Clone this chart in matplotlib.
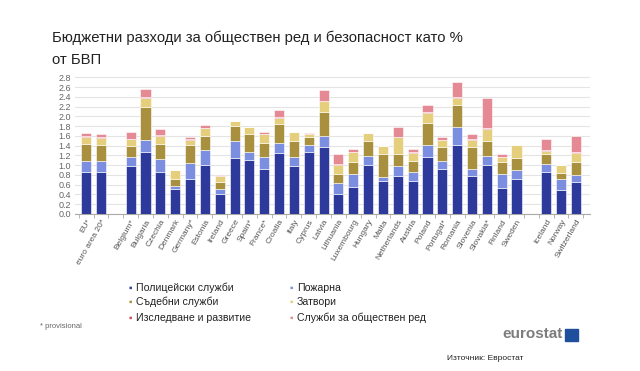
import matplotlib.pyplot as plt
import numpy as np

# country labels, '' = gap slot
countries = ['EU*', 'euro area 20*', '', 'Belgium*', 'Bulgaria', 'Czechia', 'Denmark', 'Germany*',
             'Estonia', 'Ireland', 'Greece', 'Spain*', 'France*', 'Croatia', 'Italy', 'Cyprus',
             'Latvia', 'Lithuania', 'Luxembourg', 'Hungary', 'Malta', 'Netherlands', 'Austria',
             'Poland', 'Portugal*', 'Romania', 'Slovenia', 'Slovakia*', 'Finland', 'Sweden', '',
             'Iceland', 'Norway', 'Switzerland']

police = [0.87, 0.86, 0, 0.98, 1.28, 0.87, 0.51, 0.72, 1.01, 0.42, 1.15, 1.11, 0.92, 1.26, 0.98, 1.27,
          1.38, 0.40, 0.56, 1.00, 0.68, 0.78, 0.67, 1.17, 0.92, 1.41, 0.77, 1.01, 0.53, 0.71, 0,
          0.87, 0.49, 0.66]
fire = [0.22, 0.23, 0, 0.18, 0.24, 0.26, 0.06, 0.32, 0.30, 0.09, 0.34, 0.17, 0.24, 0.19, 0.19, 0.15,
        0.22, 0.23, 0.27, 0.19, 0.07, 0.20, 0.19, 0.24, 0.16, 0.38, 0.16, 0.18, 0.30, 0.19, 0,
        0.15, 0.22, 0.13]
courts = [0.34, 0.32, 0, 0.23, 0.68, 0.30, 0.15, 0.37, 0.29, 0.15, 0.31, 0.36, 0.29, 0.39, 0.33, 0.15,
          0.49, 0.20, 0.24, 0.31, 0.47, 0.25, 0.23, 0.45, 0.29, 0.44, 0.44, 0.31, 0.24, 0.25, 0,
          0.20, 0.14, 0.28]
prisons = [0.15, 0.15, 0, 0.14, 0.18, 0.17, 0.18, 0.11, 0.16, 0.12, 0.11, 0.15, 0.18, 0.13, 0.18, 0.07,
           0.22, 0.18, 0.20, 0.15, 0.17, 0.34, 0.17, 0.22, 0.15, 0.15, 0.15, 0.25, 0.10, 0.26, 0,
           0.08, 0.15, 0.19]
research = [0.01, 0.01, 0, 0.01, 0.01, 0.01, 0.0, 0.01, 0.01, 0.0, 0.0, 0.0, 0.01, 0.01, 0.0, 0.0,
            0.01, 0.01, 0.0, 0.0, 0.0, 0.01, 0.01, 0.01, 0.0, 0.01, 0.01, 0.01, 0.0, 0.0, 0,
            0.01, 0.0, 0.01]
public_order = [0.08, 0.07, 0, 0.14, 0.18, 0.14, 0.0, 0.05, 0.06, 0.02, 0.0, 0.0, 0.05, 0.16, 0.0, 0.03,
                0.23, 0.20, 0.06, 0.0, 0.0, 0.21, 0.07, 0.15, 0.06, 0.31, 0.10, 0.62, 0.05, 0.0, 0,
                0.22, 0.0, 0.33]

series = [police, fire, courts, prisons, research, public_order]
names = ['Полицейски служби', 'Пожарна', 'Съдебни служби', 'Затвори',
         'Изследване и развитие', 'Служби за обществен ред']
colors = ['#2d3a9c', '#7b8ee0', '#a8903e', '#e6cf7c', '#d24a5c', '#e58a94']

plt.rcParams['font.family'] = ['Liberation Sans', 'DejaVu Sans']

fig = plt.figure(figsize=(6.4, 3.71), dpi=100)
ax = fig.add_axes([75 / 640, 1 - 214 / 371, 515 / 640, 141.5 / 371])

x = np.arange(len(countries))
bottom = np.zeros(len(countries))
for vals, col in zip(series, colors):
    ax.bar(x, vals, 0.68, bottom=bottom, color=col, edgecolor='white', linewidth=0.4, zorder=3)
    bottom += np.array(vals)

ax.set_ylim(0, 2.9)
ax.set_xlim(-0.75, len(countries) - 0.05)
ax.set_yticks(np.arange(0, 2.81, 0.2))
ax.set_yticklabels(['%.1f' % v for v in np.arange(0, 2.81, 0.2)], fontsize=6.5, color='#666666')
ax.yaxis.grid(True, color='#e4e4e4', linewidth=0.8, zorder=0)
for s in ['top', 'right', 'left']:
    ax.spines[s].set_visible(False)
ax.spines['bottom'].set_color('#aaaaaa')
ax.tick_params(axis='y', length=0, pad=3)
ax.set_xticks(x)
ax.set_xticklabels(countries, rotation=60, ha='right', rotation_mode='anchor',
                   fontsize=6, color='#555555')
ax.tick_params(axis='x', length=0, pad=3)
ax.set_xticks(np.arange(-0.5, len(countries), 1), minor=True)
ax.tick_params(axis='x', which='minor', length=3, color='#aaaaaa')

fig.text(52 / 640, 1 - 38 / 371, 'Бюджетни разходи за обществен ред и безопасност като %',
         fontsize=10.7, color='#222222', va='center')
fig.text(52 / 640, 1 - 60 / 371, 'от БВП', fontsize=10.7, color='#222222', va='center')

# legend in two columns
leg_x = [132, 293]
leg_y = [288, 302, 318]
for i, (nm, col) in enumerate(zip(names, colors)):
    cx = leg_x[i % 2]
    cy = leg_y[i // 2]
    fig.text(cx / 640, 1 - cy / 371, '\u25aa', color=col, fontsize=7, va='center', ha='right')
    fig.text((cx + 4) / 640, 1 - cy / 371, nm, fontsize=7.6, color='#222222', va='center')

fig.text(40 / 640, 1 - 326 / 371, '* provisional', fontsize=5.5, color='#666666', va='center')
fig.text(563 / 640, 1 - 334 / 371, 'eurostat', fontsize=11, color='#7d7d7d',
         fontweight='bold', va='center', ha='right')
fig.patches.append(plt.Rectangle((565 / 640, 1 - 341 / 371), 13 / 640, 12 / 371,
                                 transform=fig.transFigure, color='#1f4e9c'))
fig.text(447 / 640, 1 - 358 / 371, 'Източник: Евростат', fontsize=6, color='#222222', va='center')

fig.savefig('out.png', dpi=100)
